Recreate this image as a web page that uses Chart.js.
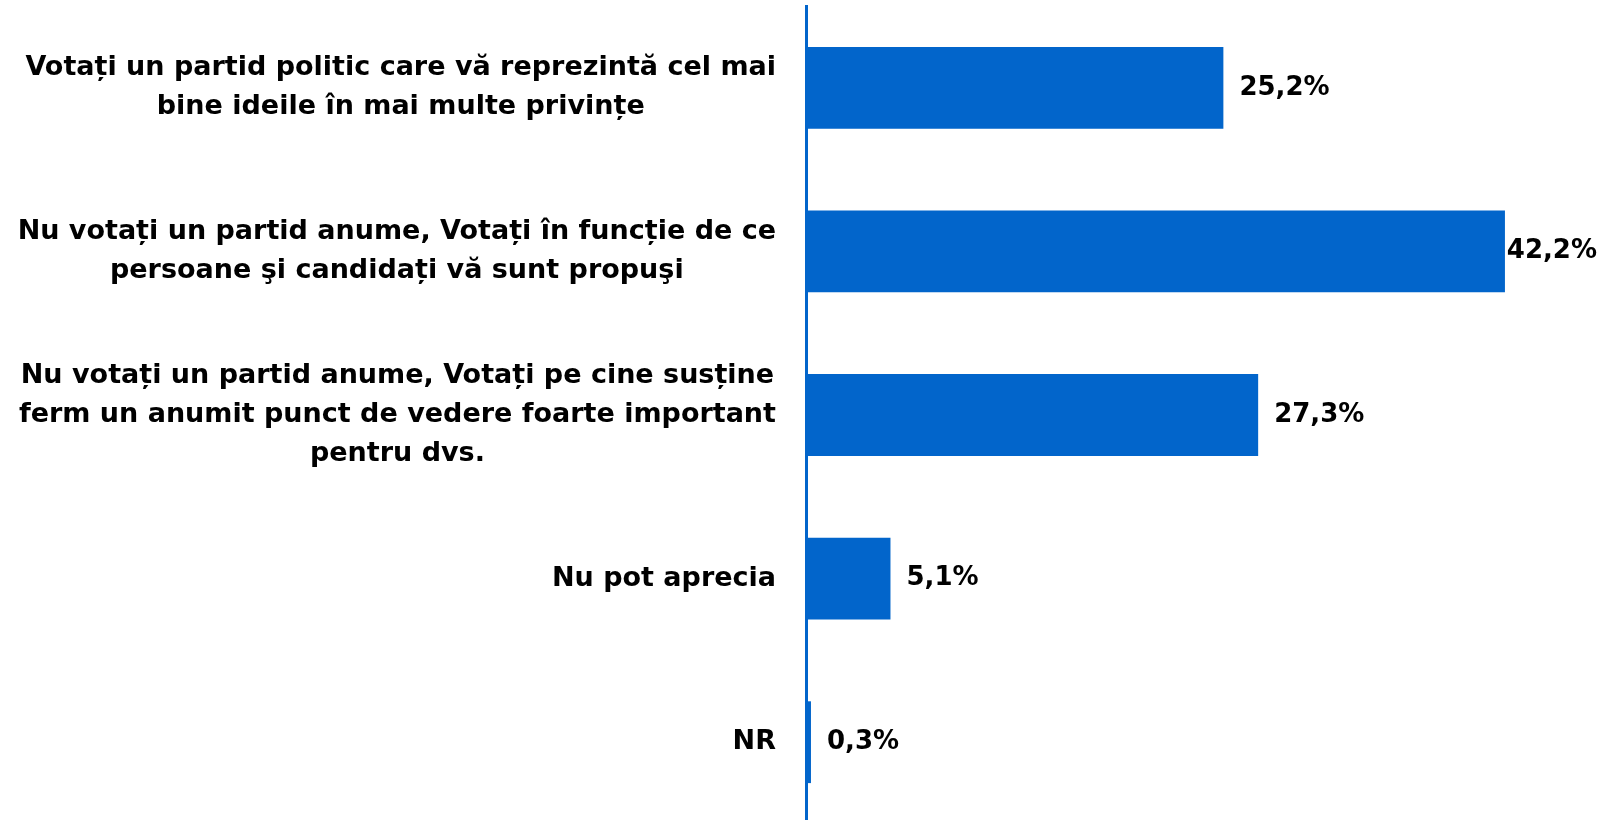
<!DOCTYPE html>
<html>
<head>
<meta charset="utf-8">
<script src="https://cdn.jsdelivr.net/npm/chart.js@4"></script>
<style>
    html, body { margin: 0; padding: 0; background: #fff; overflow: hidden; }
    #wrap { width: 1603px; height: 824px; }
</style>
</head>
<body>
<div id="wrap"><canvas id="barChart"></canvas></div>
<script>
var labels = [
    ["Votați un partid politic care vă reprezintă cel mai", "bine ideile în mai multe privințe"],
    ["Nu votați un partid anume, Votați în funcție de ce", "persoane şi candidați vă sunt propuşi"],
    ["Nu votați un partid anume, Votați pe cine susține", "ferm un anumit punct de vedere foarte important", "pentru dvs."],
    ["Nu pot aprecia"],
    ["NR"]
];
var values = [25.2, 42.2, 27.3, 5.1, 0.3];
var valueLabels = ["25,2%", "42,2%", "27,3%", "5,1%", "0,3%"];

var blue = "#0265cb";
var fontFamily = "'DejaVu Sans', sans-serif";

// category labels: block right aligned to the axis, lines centred inside the block
var categoryPlugin = {
    id: "categoryLabels",
    afterDraw: function (chart) {
        var ctx = chart.ctx;
        var yScale = chart.scales.y;
        var right = yScale.right - 30;
        var lineH = 39;
        ctx.save();
        ctx.font = "bold 27px " + fontFamily;
        ctx.fillStyle = "#000";
        ctx.textBaseline = "middle";
        ctx.textAlign = "center";
        labels.forEach(function (lines, i) {
            var y = yScale.getPixelForTick(i);
            var blockW = 0;
            lines.forEach(function (l) { blockW = Math.max(blockW, ctx.measureText(l).width); });
            var cx = right - blockW / 2;
            lines.forEach(function (l, j) {
                ctx.fillText(l, cx, y + (j - (lines.length - 1) / 2) * lineH);
            });
        });
        ctx.restore();
    }
};

var valuePlugin = {
    id: "valueLabels",
    afterDatasetsDraw: function (chart) {
        var ctx = chart.ctx;
        var meta = chart.getDatasetMeta(0);
        ctx.save();
        ctx.font = "bold 26px " + fontFamily;
        ctx.fillStyle = "#000";
        ctx.textBaseline = "middle";
        ctx.textAlign = "left";
        meta.data.forEach(function (bar, i) {
            var text = valueLabels[i];
            var w = ctx.measureText(text).width;
            var x = Math.min(bar.x + 16, chart.width - 6 - w);
            ctx.fillText(text, x, bar.y);
        });
        ctx.restore();
    }
};

var ctx = document.getElementById("barChart").getContext("2d");
var barChart = new Chart(ctx, {
    type: "bar",
    data: {
        labels: labels,
        datasets: [{
            data: values,
            backgroundColor: blue,
            barPercentage: 0.5,
            categoryPercentage: 1
        }]
    },
    options: {
        indexAxis: "y",
        responsive: true,
        maintainAspectRatio: false,
        animation: false,
        layout: { padding: { top: 6, right: 2, left: 0, bottom: 0 } },
        plugins: {
            legend: { display: false },
            tooltip: { enabled: false }
        },
        scales: {
            x: {
                min: 0,
                max: 48,
                display: false
            },
            y: {
                grid: { display: false },
                border: { display: true, color: blue, width: 3 },
                ticks: { display: false },
                afterFit: function (scale) {
                    scale.width = 806;
                    scale.paddingTop = 0;
                    scale.paddingBottom = 0;
                }
            }
        }
    },
    plugins: [valuePlugin, categoryPlugin]
});
</script>
</body>
</html>
